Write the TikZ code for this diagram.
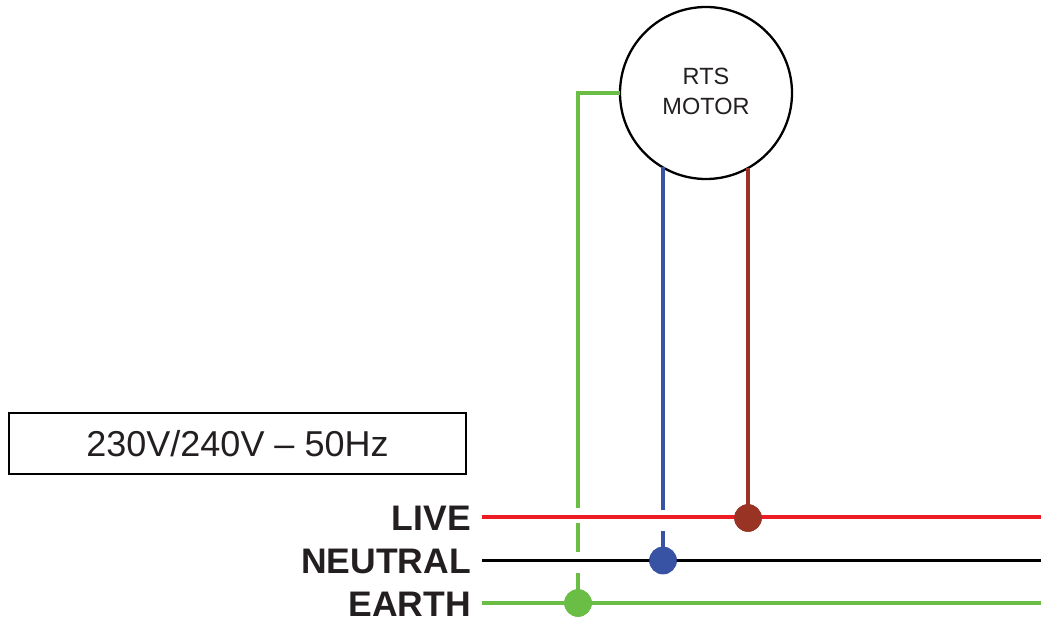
\documentclass[tikz,border=0pt]{standalone}
\usepackage{fontspec}
\setmainfont{Liberation Sans}
\definecolor{wred}{HTML}{ED1C24}
\definecolor{wbrown}{HTML}{993324}
\definecolor{wblue}{HTML}{3953A4}
\definecolor{wgreen}{HTML}{6ABD45}
\definecolor{txt}{HTML}{231F20}
\begin{document}
\begin{tikzpicture}[x=1pt,y=-1pt,
  wire/.style={line width=3.3pt},
  dotnode/.style={circle,minimum size=27.5pt,inner sep=0pt},
  lbl/.style={anchor=east,font=\fontsize{35.5}{35.5}\selectfont\bfseries,text=txt,inner sep=0pt}]
\useasboundingbox (0,0) rectangle (1041,623);
% motor
\node[circle,draw=black,line width=2.3pt,minimum size=172pt,inner sep=0pt,outer sep=0pt] (motor) at (706,93) {};
\node[align=center,font=\fontsize{23.5}{30}\selectfont,text=txt,inner sep=0pt] (mtext) at (706,91) {RTS\\MOTOR};
% supply box
\node[draw=black,line width=2pt,minimum width=457pt,minimum height=61pt,inner sep=0pt,
  font=\fontsize{36}{36}\selectfont,text=txt] (supply) at (237.5,443.5) {230V/240V -- 50Hz};
% labels
\node[lbl] (live) at (471,518) {LIVE};
\node[lbl] (neutral) at (471,561) {NEUTRAL};
\node[lbl] (earth) at (471,604) {EARTH};
% bus coordinates
\coordinate (lS) at (482,517); \coordinate (lE) at (1041,517);
\coordinate (nS) at (482,560.5); \coordinate (nE) at (1041,560.5);
\coordinate (eS) at (482,603); \coordinate (eE) at (1041,603);
% dots
\node[dotnode,fill=wbrown] (ldot) at (748,518) {};
\node[dotnode,fill=wblue] (ndot) at (663,560.5) {};
\node[dotnode,fill=wgreen] (edot) at (578,603) {};
% buses
\draw[wire,wred] (lS) -- (lE);
\draw[wire,black] (nS) -- (nE);
\draw[wire,wgreen] (eS) -- (eE);
% gap coordinates
\coordinate (g1) at (578,93);
\coordinate (g2) at (578,508);
\coordinate (g3) at (578,523);
\coordinate (g4) at (578,552);
\coordinate (g5) at (578,573);
\coordinate (b1) at (663,510);
\coordinate (b2) at (663,531);
% earth wire
\draw[wire,wgreen] (motor.west) -- (g1) -- (g2);
\draw[wire,wgreen] (g3) -- (g4);
\draw[wire,wgreen] (g5) -- (edot.center);
% neutral wire
\draw[wire,wblue] (b1 |- motor.-120) -- (b1);
\draw[wire,wblue] (b2) -- (ndot.center);
% live wire
\draw[wire,wbrown] (ldot |- motor.-61) -- (ldot.center);
% redraw dots on top
\node[dotnode,fill=wbrown] at (ldot) {};
\node[dotnode,fill=wblue] at (ndot) {};
\node[dotnode,fill=wgreen] at (edot) {};
\end{tikzpicture}
\end{document}
